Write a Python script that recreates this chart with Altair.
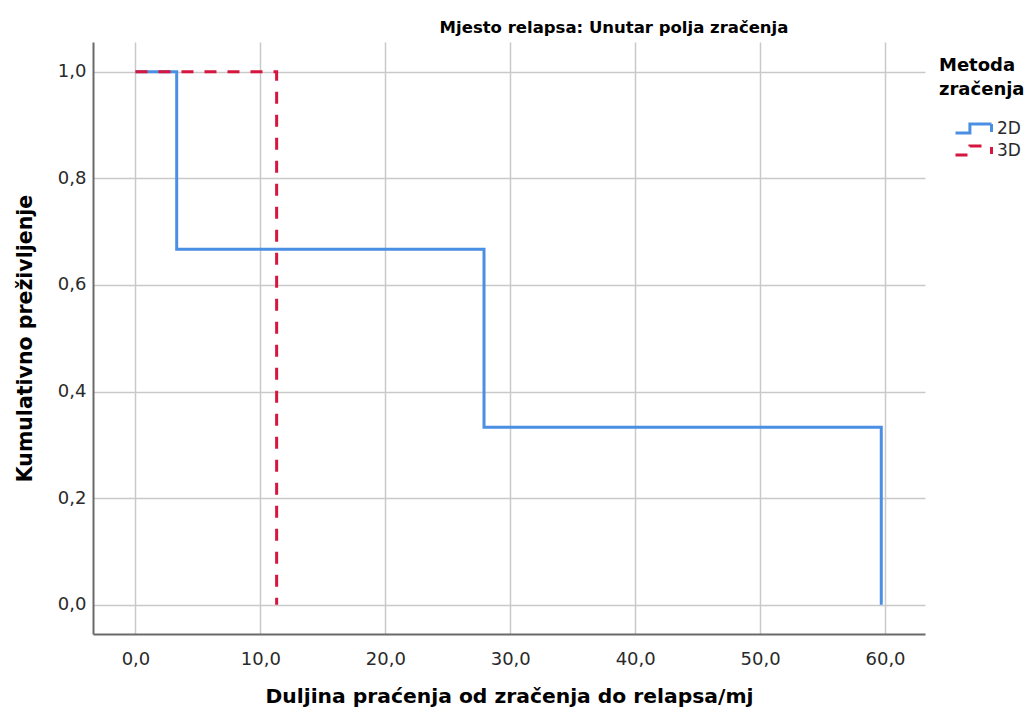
import altair as alt
import pandas as pd

series_names = ["2D", "3D"]
time_2d = [0.0, 3.3, 27.9, 59.7]
surv_2d = [1.0, 0.667, 0.333, 0.0]
time_3d = [0.0, 11.3]
surv_3d = [1.0, 0.0]
x_ticks = [0, 10, 20, 30, 40, 50, 60]
y_ticks = [0.0, 0.2, 0.4, 0.6, 0.8, 1.0]

rows = []
for t, s in zip(time_2d, surv_2d):
    rows.append({"t": t, "s": s, "g": "2D", "o": len(rows)})
for t, s in zip(time_3d, surv_3d):
    rows.append({"t": t, "s": s, "g": "3D", "o": len(rows)})
df = pd.DataFrame(rows)

FONT = "DejaVu Sans"
lab = "replace(format(datum.value, '.1f'), '.', ',')"

step_path = "M-1.8,0.45 L-0.36,0.45 L-0.36,-0.45 L1.8,-0.45 L1.8,0.36"
leg = alt.Legend(title=["Metoda", "zračenja"], orient="none", legendX=846, legendY=15)

chart = alt.Chart(df).mark_line(interpolate="step-after", strokeWidth=3).encode(
    x=alt.X("t:Q", scale=alt.Scale(domain=[-3.4, 63.2], nice=False, zero=False),
            axis=alt.Axis(values=x_ticks, labelExpr=lab, title="Duljina praćenja od zračenja do relapsa/mj",
                          titlePadding=18, labelPadding=16)),
    y=alt.Y("s:Q", scale=alt.Scale(domain=[-0.055, 1.056], nice=False, zero=False),
            axis=alt.Axis(values=y_ticks, labelExpr=lab, title="Kumulativno preživljenje",
                          titlePadding=22, labelPadding=7, titleFontSize=20.5)),
    color=alt.Color("g:N", scale=alt.Scale(domain=series_names, range=["#4a8fe3", "#d5173f"]),
                    legend=leg),
    strokeDash=alt.StrokeDash("g:N", scale=alt.Scale(domain=series_names, range=[[1, 0], [12, 11]]),
                              legend=leg),
    order="o:Q",
).properties(
    width=832, height=592,
    padding={"left": 85, "top": 34, "right": 102, "bottom": 81},
    autosize=alt.AutoSizeParams(type="none"),
    title=alt.TitleParams("Mjesto relapsa: Unutar polja zračenja", fontSize=16.5, font=FONT,
                          fontWeight="bold", color="#000000", dx=105, offset=6),
).configure_view(stroke=None).configure_axis(
    labelFont=FONT, labelFontSize=18, labelColor="#2a2a2a",
    titleFont=FONT, titleFontSize=20.3, titleFontWeight="bold", titleColor="#000000",
    gridColor="#c9c9c9", gridWidth=1.5, domainColor="#6a6a6a", domainWidth=2,
    ticks=False,
).configure_legend(
    titleFont=FONT, titleFontSize=18, titleFontWeight="bold",
    titleColor="#000000", titleAlign="left", titleLineHeight=24, labelFont=FONT, labelFontSize=17,
    labelColor="#2a2a2a", symbolType=step_path, symbolSize=400, symbolStrokeWidth=3,
    rowPadding=-1, titlePadding=18, labelOffset=12, symbolOffset=23,
)

chart.save("out.html", embed_options={"renderer": "svg", "actions": False})
